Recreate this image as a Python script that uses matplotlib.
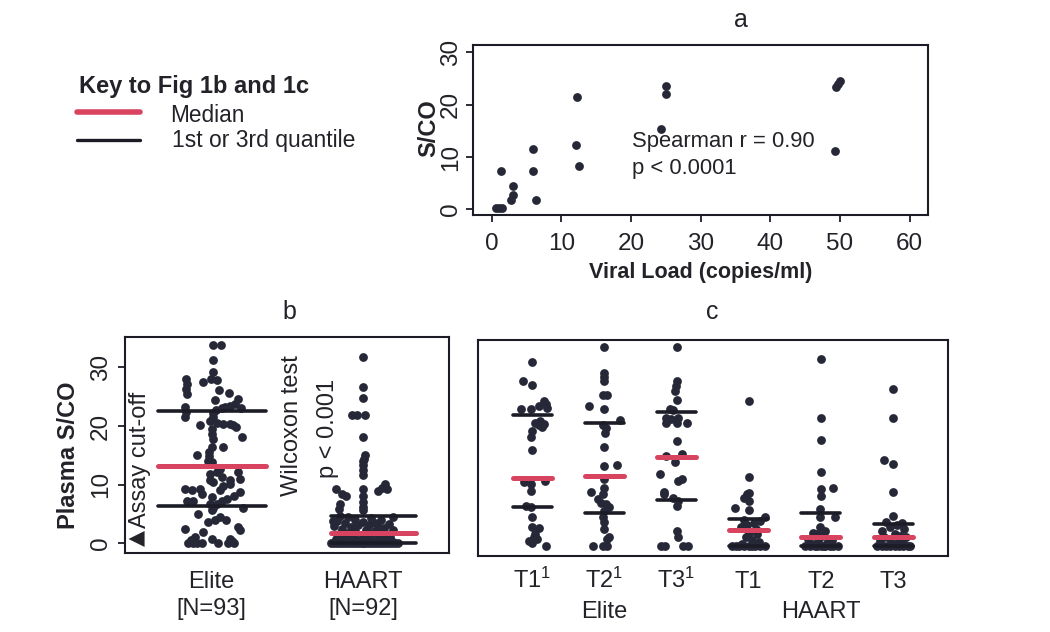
import matplotlib
matplotlib.use("Agg")
import matplotlib.pyplot as plt
import matplotlib.transforms as mtrans
from matplotlib.lines import Line2D

plt.rcParams['font.family'] = ['Liberation Sans', 'DejaVu Sans']
plt.rcParams['mathtext.fontset'] = 'custom'
plt.rcParams['mathtext.rm'] = 'Liberation Sans'
plt.rcParams['mathtext.default'] = 'regular'

# ---------------- data: panel a ----------------
viral_load = [0.6, 1.0, 1.5, 1.4, 2.8, 3.0, 3.1, 6.0, 6.0, 6.3, 12.1, 12.3, 12.6,
              24.3, 25.0, 25.0, 49.3, 49.5, 49.7, 50.0]
sco_a = [0.2, 0.2, 0.2, 7.3, 1.8, 2.7, 4.5, 11.5, 7.3, 1.8, 12.3, 21.4, 8.3,
         15.4, 23.6, 22.0, 11.1, 23.3, 24.0, 24.6]

# ---------------- data: panel b ----------------
b_groups = ["Elite", "HAART"]
b_counts = ["[N=93]", "[N=92]"]
elite_b = [33.9, 33.9, 31.3, 29.2, 28.0, 27.5, 27.9, 26.2, 25.6, 28.0, 27.2, 26.3, 25.5,
           24.5, 24.6, 23.8, 23.4, 23.2, 23.0, 23.2, 22.4, 21.6, 22.3, 21.5, 20.9, 20.5,
           20.3, 20.4, 20.1, 20.1, 19.5, 18.7, 17.8, 19.8, 18.1, 16.4, 16.4, 15.5, 14.8,
           15.1, 14.1, 11.8, 12.1, 11.3, 10.8, 12.1, 11.0, 10.7, 10.4, 9.3, 9.0, 9.3, 8.4,
           9.0, 9.8, 10.1, 8.7, 7.8, 7.2, 7.1, 6.7, 6.7, 7.2, 7.5, 6.0, 6.0, 5.6, 5.0, 4.4,
           3.9, 3.6, 2.7, 2.2, 2.4, 1.1, 1.9, 0.0, 0.0, 0.0, 0.7, 0.0, 0.0, 0.4, 0.7, 0.0,
           0.5, 0.0, 13.9, 12.6, 8.0, 22.7, 23.0, 4.0]
elite_b_jit = [0.015, 0.064, 0.011, 0.015, -0.002, -0.05, 0.037, 0.055, 0.117, -0.164, -0.16,
               -0.164, -0.16, 0.024, 0.18, 0.158, 0.125, 0.09, 0.07, -0.17, -0.164, -0.168,
               0.015, 0.015, -0.007, 0.037, 0.08, 0.125, 0.147, -0.072, 0.004, 0.004, 0.011,
               0.165, 0.202, 0.004, 0.08, -0.011, -0.011, -0.094, -0.018, -0.007, 0.037, 0.07,
               0.125, 0.18, 0.191, -0.007, 0.015, -0.171, -0.127, -0.072, -0.061, 0.059, 0.08,
               0.125, 0.191, 0.004, -0.16, -0.116, -0.007, 0.037, 0.07, 0.103, 0.213, 0.011,
               0.004, -0.083, 0.059, 0.026, -0.018, 0.18, 0.191, -0.171, -0.105, -0.05, -0.149,
               -0.116, -0.061, 0.004, 0.048, 0.114, 0.136, 0.125, 0.15, -0.13, -0.09, 0.004,
               0.06, 0.15, 0.03, 0.2, 0.1]
haart_b = [31.7, 26.7, 24.7, 21.8, 21.8, 21.8, 18.1, 15.0, 14.4, 14.0, 13.3, 12.5, 11.7,
           10.1, 9.4, 8.9, 9.3, 9.3, 8.4, 8.1, 9.3, 8.1, 7.0, 6.1, 5.6, 6.7, 5.9,
           4.6, 4.4, 4.3, 4.0, 3.9, 3.8, 3.6, 3.5, 3.4, 3.3, 3.1, 3.0, 2.9, 2.8, 2.7, 2.5,
           2.4, 2.3, 2.2, 2.1, 2.0, 4.5, 3.7,
           1.8, 1.7, 1.6, 1.5, 1.4, 1.3, 1.2, 1.1, 1.0, 0.9, 0.8, 0.7, 0.6, 0.5, 0.4, 0.3,
           0.2, 0.1,
           0.0, 0.0, 0.0, 0.0, 0.0, 0.0, 0.0, 0.0, 0.0, 0.0, 0.0, 0.0, 0.0, 0.0, 0.0, 0.0,
           0.0, 0.0, 0.0, 0.0, 0.0, 0.0, 0.0, 0.0]
haart_b_jit = [0.0, 0.0, 0.0, -0.07, -0.04, 0.01, 0.0, 0.013, 0.009, 0.0, 0.0, 0.0, 0.0,
               0.145, 0.123, 0.1, 0.16, -0.18, -0.14, -0.11, 0.0, 0.0, 0.0, 0.0, 0.0, -0.15,
               -0.16,
               -0.15, -0.1, 0.05, -0.05, 0.12, -0.17, 0.0, 0.08, -0.12, 0.17, -0.03, 0.04,
               -0.19, 0.1, -0.08, 0.14, -0.14, 0.02, 0.2, -0.05, 0.08, 0.2, -0.2,
               -0.1, 0.06, 0.15, -0.16, 0.0, 0.1, -0.06, 0.18, -0.13, 0.04, 0.12, -0.18,
               -0.02, 0.16, -0.09, 0.08, 0.2, -0.15,
               -0.21, -0.19, -0.17, -0.15, -0.13, -0.11, -0.09, -0.07, -0.05, -0.03, -0.01,
               0.01, 0.03, 0.05, 0.07, 0.09, 0.11, 0.13, 0.15, 0.17, 0.19, 0.21, 0.23, 0.0]
b_q1 = [6.4, 0.0]
b_median = [13.2, 1.7]
b_q3 = [22.5, 4.7]

# ---------------- data: panel c ----------------
c_labels = ["T1$^{1}$", "T2$^{1}$", "T3$^{1}$", "T1", "T2", "T3"]
c_groups = ["Elite", "HAART"]
e_t1 = [31.3, 28.1, 27.4, 23.4, 23.4, 23.8, 24.7, 24.1, 23.5, 21.0, 20.6, 20.2, 21.3, 20.8,
        19.6, 18.5, 16.4, 10.8, 10.5, 9.4, 11.0, 6.8, 6.5, 4.8, 3.1, 3.0, 1.9, 1.4, 1.1, 0.0,
        0.8, 0.5]
e_t1_jit = [0.0, -0.13, 0.0, -0.16, -0.01, 0.09, 0.16, 0.185, 0.21, 0.046, 0.09, 0.14, 0.115,
            0.16, 0.0, -0.01, 0.0, -0.115, -0.02, -0.02, 0.175, -0.09, -0.02, 0.0, 0.0, 0.1,
            0.046, 0.02, 0.07, 0.185, -0.046, 0.0]
e_t2 = [33.9, 29.5, 28.8, 28.1, 25.7, 25.7, 23.8, 23.4, 21.4, 20.6, 20.1, 19.3, 16.8, 13.6,
        13.8, 11.3, 9.9, 9.2, 8.8, 7.9, 7.3, 7.1, 6.5, 5.9, 4.8, 4.1, 2.8, 1.4, 1.1, 0.0, 0.0,
        0.0]
e_t2_jit = [0.0, -0.01, -0.01, -0.01, -0.02, 0.04, -0.21, 0.0, 0.21, -0.02, 0.02, 0.01, 0.0,
            0.0, 0.18, 0.0, 0.0, -0.19, -0.02, -0.09, -0.05, 0.02, 0.07, 0.0, -0.02, 0.0,
            -0.01, 0.07, 0.04, -0.16, -0.02, 0.04]
e_t3 = [33.9, 28.1, 27.2, 26.4, 24.8, 23.3, 23.1, 21.8, 21.6, 21.8, 21.0, 21.0, 21.0, 17.9,
        15.3, 15.6, 14.3, 12.2, 11.0, 11.3, 9.2, 8.8, 8.2, 7.6, 6.8, 2.5, 1.4, 0.0, 0.0, 0.0,
        0.0]
e_t3_jit = [0.0, 0.0, -0.01, -0.02, 0.0, -0.09, -0.05, -0.14, -0.07, 0.02, -0.14, 0.0, 0.14,
            0.0, -0.14, 0.07, -0.02, -0.23, 0.02, 0.07, -0.18, -0.18, -0.05, 0.02, 0.0, 0.0,
            0.02, -0.22, -0.16, 0.09, 0.16]
h_t1 = [24.7, 11.7, 9.0, 8.2, 7.6, 8.8, 6.4, 6.1, 4.8, 4.3, 3.9, 4.2, 3.1, 2.2, 1.9, 0.0, 0.0,
        0.0, 0.0, 0.0, 0.0, 0.0, 0.0, 0.0, 0.3, 1.0, 1.5, 2.9, 3.5, 0.6]
h_t1_jit = [0.0, 0.0, 0.0, -0.07, 0.0, -0.03, -0.19, 0.0, 0.23, -0.07, 0.07, 0.16, -0.11, 0.0,
            0.12, -0.23, -0.14, -0.07, 0.0, 0.09, 0.16, -0.18, 0.23, 0.04, -0.1, 0.05, -0.04,
            0.1, -0.02, 0.14]
h_t2 = [31.8, 21.8, 18.1, 12.6, 9.6, 8.5, 9.8, 6.2, 4.8, 4.8, 3.1, 2.2, 0.7, 0.0, 0.0, 0.0,
        0.0, 0.0, 0.0, 0.0, 0.0, 0.0, 0.0, 0.3, 0.5, 0.8, 1.0, 1.2, 1.6, 1.9, 2.5]
h_t2_jit = [0.0, 0.0, 0.0, 0.0, 0.0, 0.0, 0.17, -0.01, -0.01, 0.19, -0.01, -0.11, 0.11, -0.15,
            -0.06, 0.04, 0.13, 0.17, 0.06, 0.0, -0.08, -0.22, 0.23, -0.12, 0.08, -0.04, 0.15,
            -0.18, 0.02, -0.06, 0.05]
h_t3 = [26.7, 21.8, 14.6, 14.0, 9.1, 5.1, 4.0, 3.8, 3.5, 3.2, 2.8, 2.5, 2.0, 1.7, 1.5, 1.4,
        1.2, 1.0, 0.8, 0.5, 0.3, 0.0, 0.0, 0.0, 0.0, 0.0, 0.0, 0.0, 0.0, 0.0]
h_t3_jit = [0.0, 0.0, -0.13, 0.0, 0.0, 0.0, -0.1, 0.12, 0.05, -0.05, 0.15, -0.15, 0.03, 0.1,
            -0.12, 0.18, -0.04, 0.08, -0.18, 0.14, 0.0, -0.22, -0.16, -0.1, -0.04, 0.02, 0.08,
            0.14, 0.2, 0.24]
c_q1 = [6.5, 5.6, 7.7, 0.0, 0.0, 0.0]
c_median = [11.5, 11.9, 15.2, 2.7, 1.4, 1.4]
c_q3 = [22.3, 21.0, 22.9, 4.55, 5.5, 3.6]

# ---------------- drawing ----------------
W, H = 1050, 632
fig = plt.figure(figsize=(10.5, 6.32), dpi=100)
fig.patch.set_facecolor('white')

PT = '#262838'
RED = '#d8445f'
BLK = '#1b1c26'
TXT = '#222228'
DOT = 40


def axes_px(l, t, r, b):
    return fig.add_axes([l / W, 1 - b / H, (r - l) / W, (b - t) / H])


def fy(y):
    return 1 - y / H


def style_spines(ax):
    for s in ax.spines.values():
        s.set_linewidth(1.5)
        s.set_color(BLK)


# ----- panel a -----
ax_a = axes_px(473.3, 45, 927.7, 215)
ax_a.scatter(viral_load, sco_a, s=DOT, color=PT, linewidths=0, zorder=3)
ax_a.set_xlim(-2.64, 62.6)
ax_a.set_ylim(-1.1, 31.4)
ax_a.set_xticks([0, 10, 20, 30, 40, 50, 60])
ax_a.set_yticks([0, 10, 20, 30])
ax_a.tick_params(axis='both', direction='out', length=5, width=1.3, color=BLK,
                 labelsize=17.5, labelcolor=TXT)
ax_a.tick_params(axis='x', pad=8)
ax_a.tick_params(axis='y', pad=3, labelrotation=90)
for lbl in ax_a.get_yticklabels():
    lbl.set_va('center')
style_spines(ax_a)
ax_a.text(0.35, 0.353, "Spearman r = 0.90\np < 0.0001", transform=ax_a.transAxes,
          fontsize=15.8, color=TXT, ha='left', va='center', linespacing=1.4)
fig.text(701 / W, fy(272), "Viral Load (copies/ml)", fontsize=15.5, fontweight='bold',
         color=TXT, ha='center', va='center')
fig.text(429 / W, fy(128), "S/CO", fontsize=17, fontweight='bold', color=TXT,
         ha='center', va='center', rotation=90)
fig.text(741 / W, fy(20), "a", fontsize=18, color=TXT, ha='center', va='center')

# ----- key -----
fig.text(79 / W, fy(87), "Key to Fig 1b and 1c", fontsize=17, fontweight='bold', color=TXT,
         ha='left', va='center')
fig.add_artist(Line2D([77 / W, 140 / W], [fy(111.5), fy(111.5)], color=RED, linewidth=4,
                      solid_capstyle='round'))
fig.add_artist(Line2D([77 / W, 140 / W], [fy(139.5), fy(139.5)], color=BLK, linewidth=2.4,
                      solid_capstyle='round'))
fig.text(170 / W, fy(115), "Median", fontsize=16.3, color=TXT, ha='left', va='center')
fig.text(172 / W, fy(141), "1st or 3rd quantile", fontsize=16.5, color=TXT, ha='left',
         va='center')

# ----- panel b -----
ax_b = axes_px(125, 337, 449, 553)
ax_b.set_xlim(0.434, 2.566)
ax_b.set_ylim(-1.7, 35.2)
ax_b.scatter([1 + j for j in elite_b_jit], elite_b, s=DOT, color=PT, linewidths=0, zorder=3)
ax_b.scatter([2 + j for j in haart_b_jit], haart_b, s=DOT, color=PT, linewidths=0, zorder=3)
b_span = [(0.65, 1.36), (1.79, 2.35)]
for i in range(2):
    x0, x1 = b_span[i]
    ax_b.plot([x0, x1], [b_q1[i]] * 2, color=BLK, linewidth=2.6, zorder=4,
              solid_capstyle='round')
    ax_b.plot([x0, x1], [b_q3[i]] * 2, color=BLK, linewidth=2.6, zorder=4,
              solid_capstyle='round')
    ax_b.plot([x0, x1], [b_median[i]] * 2, color=RED, linewidth=3.6, zorder=5,
              solid_capstyle='round')
ax_b.set_xticks([])
ax_b.set_yticks([0, 10, 20, 30])
ax_b.tick_params(axis='y', direction='out', length=5, width=1.3, color=BLK, labelsize=17.5,
                 labelcolor=TXT, pad=4.5, labelrotation=90)
for lbl in ax_b.get_yticklabels():
    lbl.set_va('center')
style_spines(ax_b)
tb = mtrans.blended_transform_factory(ax_b.transData, fig.transFigure)
for i in range(2):
    ax_b.text(i + 1, fy(588), b_groups[i], transform=tb, fontsize=17, color=TXT,
              ha='center', va='baseline')
    ax_b.text(i + 1, fy(615), b_counts[i], transform=tb, fontsize=17, color=TXT,
              ha='center', va='baseline')
ax_b.text(0.515, 0.9, "\u25B2", fontsize=15, color=TXT, rotation=90,
          family='DejaVu Sans', ha='center', va='center')
ax_b.text(0.535, 2.5, "Assay cut-off", fontsize=17, color=TXT, rotation=90,
          ha='center', va='bottom')
ax_b.text(1.53, 20.1, "Wilcoxon test", fontsize=17, color=TXT, rotation=90,
          ha='center', va='center')
ax_b.text(1.77, 19.5, "p < 0.001", fontsize=17, color=TXT, rotation=90,
          ha='center', va='center')
fig.text(68.5 / W, fy(455), "Plasma S/CO", fontsize=17, fontweight='bold', color=TXT,
         ha='center', va='center', rotation=90)
fig.text(289 / W, fy(312), "b", fontsize=18, color=TXT, ha='center', va='center')

# ----- panel c -----
ax_c = axes_px(478, 339.5, 948, 555.5)
ax_c.set_xlim(0.25, 6.76)
ax_c.set_ylim(-1.7, 35.2)
c_vals = [e_t1, e_t2, e_t3, h_t1, h_t2, h_t3]
c_jits = [e_t1_jit, e_t2_jit, e_t3_jit, h_t1_jit, h_t2_jit, h_t3_jit]
for i in range(6):
    pos = i + 1
    ax_c.scatter([pos + j for j in c_jits[i]], c_vals[i], s=DOT, color=PT, linewidths=0,
                 zorder=3)
    ax_c.plot([pos - 0.27, pos + 0.27], [c_q1[i]] * 2, color=BLK, linewidth=2.6, zorder=4,
              solid_capstyle='round')
    ax_c.plot([pos - 0.27, pos + 0.27], [c_q3[i]] * 2, color=BLK, linewidth=2.6, zorder=4,
              solid_capstyle='round')
    ax_c.plot([pos - 0.27, pos + 0.27], [c_median[i]] * 2, color=RED, linewidth=3.6,
              zorder=5, solid_capstyle='round')
ax_c.set_xticks([])
ax_c.set_yticks([])
style_spines(ax_c)
tc = mtrans.blended_transform_factory(ax_c.transData, fig.transFigure)
for i in range(6):
    ax_c.text(i + 1, fy(588), c_labels[i], transform=tc, fontsize=17, color=TXT,
              ha='center', va='baseline')
ax_c.text(2, fy(618), c_groups[0], transform=tc, fontsize=17, color=TXT, ha='center',
          va='baseline')
ax_c.text(5, fy(618), c_groups[1], transform=tc, fontsize=17, color=TXT, ha='center',
          va='baseline')
fig.text(712 / W, fy(312), "c", fontsize=18, color=TXT, ha='center', va='center')

fig.savefig("out.png", dpi=100, facecolor='white')
